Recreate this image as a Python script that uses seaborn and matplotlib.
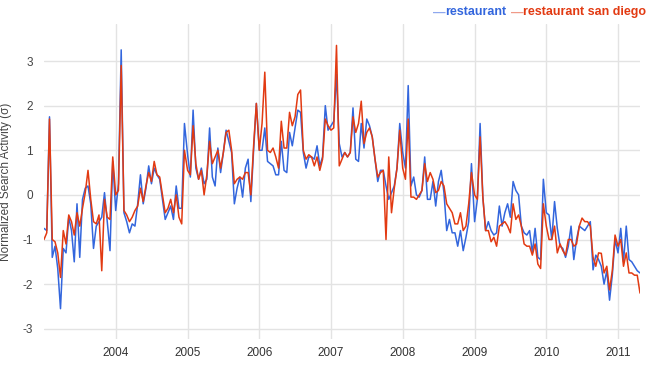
import pandas as pd
import seaborn as sns
from matplotlib import pyplot as plt

BLUE = '#3366dd'
RED = '#e23a12'

# biweekly normalized values, one list per year
blue_2003 = [-0.75, -0.8, 1.75, -1.4, -1.15, -1.65, -2.55, -1.2, -1.3, -0.5, -0.8, -1.5, -0.2,
             -1.4, -0.1, 0.15, 0.2, -0.2, -1.2, -0.7, -0.6, -0.5, 0.05, -0.6, -1.25, 0.75]
red_2003 = [-1.0, -0.85, 1.7, -1.0, -1.05, -1.3, -1.85, -0.8, -1.1, -0.45, -0.6, -0.9, -0.4,
            -0.7, -0.3, 0.05, 0.55, -0.1, -0.6, -0.65, -0.45, -1.7, -0.1, -0.5, -0.55, 0.85]
blue_2004 = [-0.35, 0.25, 3.25, -0.4, -0.6, -0.85, -0.65, -0.7, -0.2, 0.45, -0.2, 0.15, 0.65,
             0.25, 0.6, 0.45, 0.35, -0.1, -0.55, -0.4, -0.25, -0.55, 0.2, -0.3, -0.3, 1.6]
red_2004 = [0.0, 0.1, 2.9, -0.35, -0.45, -0.6, -0.5, -0.35, -0.25, 0.15, -0.15, 0.2, 0.5,
            0.3, 0.75, 0.45, 0.4, 0.0, -0.4, -0.3, -0.1, -0.4, 0.0, -0.5, -0.65, 1.0]
blue_2005 = [0.9, 0.4, 1.9, 0.6, 0.35, 0.6, 0.25, 0.35, 1.5, 0.4, 0.2, 1.05, 0.5,
             0.95, 1.45, 1.2, 0.95, -0.2, 0.15, 0.4, -0.05, 0.6, 0.8, -0.15, 1.0, 2.05]
red_2005 = [0.55, 0.45, 1.55, 0.7, 0.35, 0.55, 0.0, 0.45, 1.2, 0.7, 0.85, 1.0, 0.6,
            0.95, 1.4, 1.45, 1.0, 0.25, 0.35, 0.4, 0.35, 0.5, 0.5, 0.0, 1.1, 2.05]
blue_2006 = [1.0, 1.0, 1.5, 0.75, 0.7, 0.65, 0.45, 0.45, 1.2, 0.55, 0.5, 1.4, 1.1,
             1.5, 1.9, 1.85, 0.95, 0.6, 0.85, 0.85, 0.8, 1.1, 0.65, 0.85, 2.0, 1.45]
red_2006 = [1.0, 1.6, 2.75, 1.0, 0.95, 1.05, 0.85, 0.6, 1.65, 1.05, 1.05, 1.85, 1.55,
            1.75, 2.25, 2.35, 1.0, 0.8, 0.9, 0.85, 0.65, 0.85, 0.55, 0.8, 1.7, 1.55]
blue_2007 = [1.55, 1.65, 2.7, 1.15, 0.85, 0.95, 0.85, 0.95, 1.95, 0.8, 0.75, 1.6, 1.05,
             1.7, 1.55, 1.3, 0.8, 0.3, 0.55, 0.55, 0.2, -0.1, 0.05, 0.2, 0.6, 1.6]
red_2007 = [1.45, 1.5, 3.35, 0.65, 0.8, 0.95, 0.85, 0.95, 1.75, 1.4, 1.6, 2.1, 1.15,
            1.4, 1.5, 1.3, 0.8, 0.4, 0.5, 0.55, -1.0, 0.85, -0.4, 0.15, 0.6, 1.45]
blue_2008 = [0.95, 0.6, 2.45, 0.2, 0.4, 0.0, -0.05, 0.1, 0.85, -0.1, -0.1, 0.3, -0.25,
             0.3, 0.55, 0.05, -0.8, -0.55, -0.85, -0.85, -1.15, -0.8, -1.25, -0.95, -0.6, 0.7]
red_2008 = [0.6, 0.35, 1.7, -0.05, -0.05, -0.1, 0.0, 0.1, 0.7, 0.3, 0.5, 0.35, 0.05,
            0.1, 0.3, 0.2, -0.2, -0.3, -0.4, -0.65, -0.65, -0.4, -0.8, -0.7, -0.2, 0.5]
blue_2009 = [-0.6, -0.1, 1.6, -0.05, -0.8, -0.6, -0.8, -0.9, -0.85, -0.25, -0.7, -0.4, -0.2,
             -0.5, 0.3, 0.1, 0.0, -0.7, -0.85, -0.9, -0.8, -1.3, -0.75, -1.4, -1.45, 0.35]
red_2009 = [0.0, -0.1, 1.3, -0.05, -0.8, -0.8, -1.05, -0.95, -1.15, -0.7, -0.65, -0.6, -0.7,
            -0.85, -0.2, -0.55, -0.45, -0.7, -1.1, -1.15, -1.15, -1.35, -1.1, -1.55, -1.65, -0.2]
blue_2010 = [-0.4, -0.45, -1.0, -0.15, -0.75, -1.15, -1.2, -1.4, -1.15, -0.7, -1.45, -1.0, -0.7,
             -0.75, -0.8, -0.7, -0.6, -1.68, -1.35, -1.45, -1.6, -2.0, -1.7, -2.36, -1.8, -1.0]
red_2010 = [-0.7, -1.0, -1.0, -0.7, -1.3, -1.1, -1.25, -1.35, -1.0, -1.0, -1.15, -1.1, -0.7,
            -0.52, -0.6, -0.6, -0.7, -1.4, -1.6, -1.3, -1.31, -1.75, -1.6, -2.13, -1.7, -0.9]
blue_2011 = [-1.3, -0.75, -1.5, -0.7, -1.45, -1.5, -1.6, -1.7, -1.75]
red_2011 = [-1.15, -1.0, -1.6, -1.3, -1.75, -1.75, -1.8, -1.8, -2.2]

YEARS = list(range(2003, 2012))
BLUE_BY_YEAR = [blue_2003, blue_2004, blue_2005, blue_2006, blue_2007,
                blue_2008, blue_2009, blue_2010, blue_2011]
RED_BY_YEAR = [red_2003, red_2004, red_2005, red_2006, red_2007,
               red_2008, red_2009, red_2010, red_2011]
X_LABELS = [str(y) for y in range(2004, 2012)]
Y_TXT = 'Normalized Search Activity (σ)'


if __name__ == '__main__':
    frames = []
    for year, b, r in zip(YEARS, BLUE_BY_YEAR, RED_BY_YEAR):
        dates = pd.date_range(f'{year}-01-01', periods=len(b), freq='14D')
        frames.append(pd.DataFrame({'date': dates, 'restaurant': b,
                                    'restaurant san diego': r}))
    data_pd = pd.concat(frames).melt(id_vars='date', var_name='term', value_name='sigma')

    sns.set_style('white')
    plt.rcParams['font.family'] = ['Liberation Sans', 'DejaVu Sans']
    plt.rcParams['axes.unicode_minus'] = False

    fig = plt.figure(figsize=(6.5, 3.65), dpi=100)
    ax = fig.add_axes([44 / 650, 26 / 365, 596 / 650, 315 / 365])

    sns.lineplot(data=data_pd, x='date', y='sigma', hue='term',
                 palette={'restaurant': BLUE, 'restaurant san diego': RED},
                 linewidth=1.1, legend=False, ax=ax)

    ax.set_xlim(pd.Timestamp('2003-01-01'), data_pd['date'].max())
    ax.set_ylim(-3.23, 3.83)
    ax.set_yticks(range(-3, 4))
    ax.set_xticks([pd.Timestamp(f'{y}-01-01') for y in X_LABELS])
    ax.set_xticklabels(X_LABELS)
    ax.grid(True, color='#e3e3e3', linewidth=1)
    ax.set_axisbelow(True)
    for s in ax.spines.values():
        s.set_visible(False)
    ax.tick_params(length=0, labelsize=8.5, colors='#333333')
    ax.tick_params(axis='y', pad=8, colors='#444444')
    ax.tick_params(axis='x', pad=6)
    ax.set_xlabel('')
    ax.set_ylabel(Y_TXT, fontsize=8.5, color='#444444')
    ax.yaxis.set_label_coords(-0.054, 0.5)

    # legend as coloured text, laid out right to left
    pieces = [('—', '#8fa8ee'), ('restaurant', BLUE), ('—', '#f09a88'),
              ('restaurant san diego', RED)]
    fig.canvas.draw()
    renderer = fig.canvas.get_renderer()
    x = 0.994
    for i, (txt, col) in enumerate(reversed(pieces)):
        t = fig.text(x, 0.966, txt, color=col, ha='right', va='center',
                     fontsize=9, fontweight='bold')
        x -= t.get_window_extent(renderer).width / fig.bbox.width
        if i == 1:
            x -= 4 / 650

    fig.savefig('out.png', dpi=100)
